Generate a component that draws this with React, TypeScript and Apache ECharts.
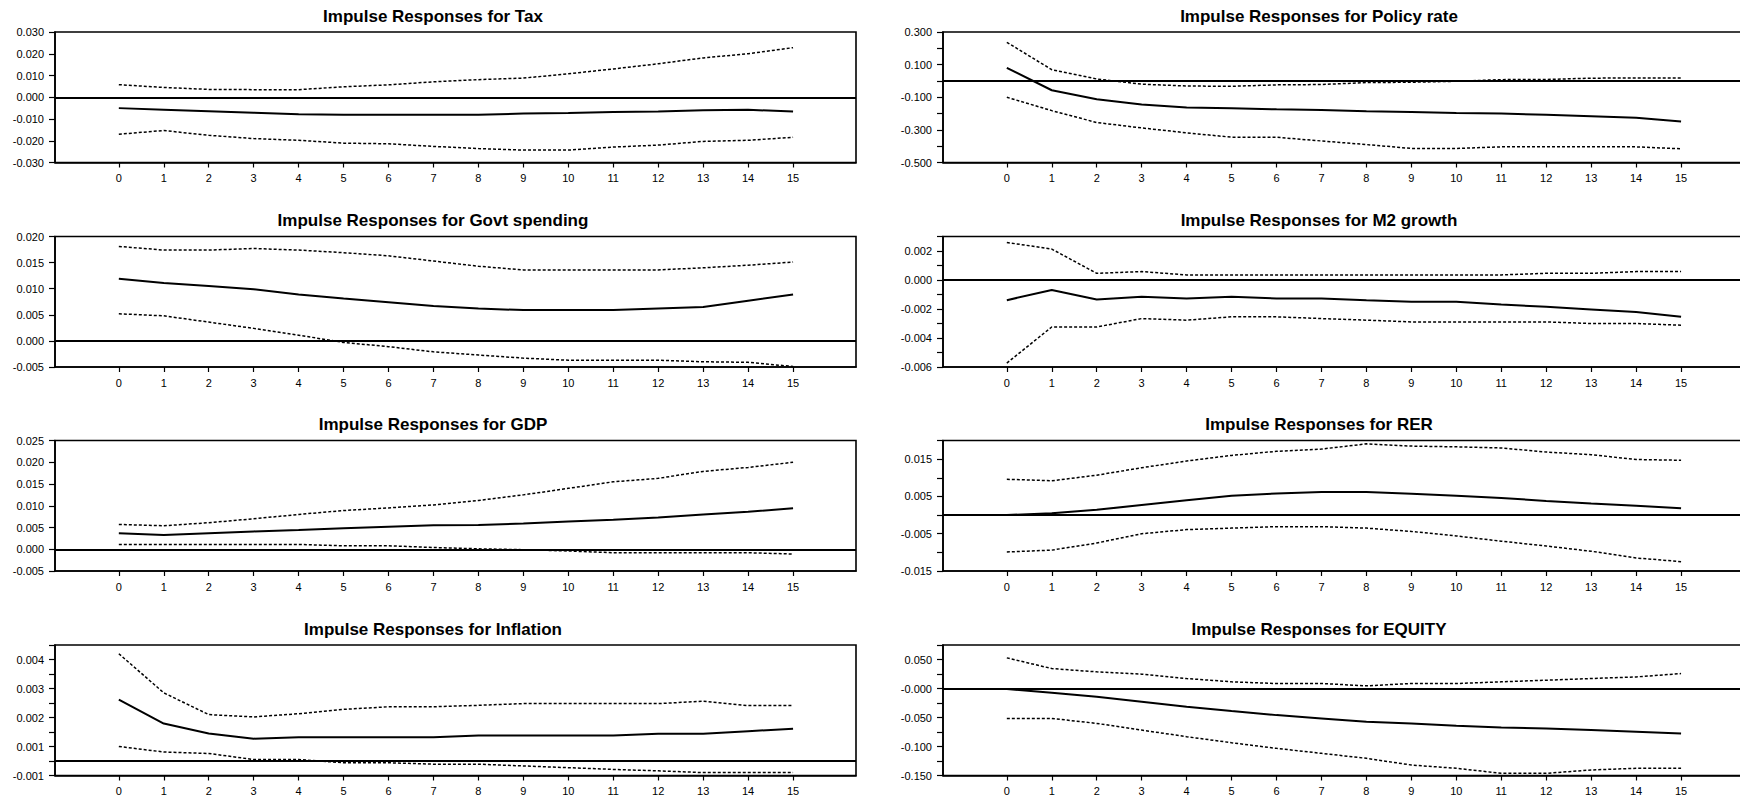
import React, { useEffect, useRef } from "react";
import * as echarts from "echarts";

// ---------- data ----------
const periods = [0, 1, 2, 3, 4, 5, 6, 7, 8, 9, 10, 11, 12, 13, 14, 15];

const taxMid = [-0.005, -0.0057, -0.0064, -0.0071, -0.0078, -0.008, -0.008, -0.008, -0.008, -0.0075, -0.0072, -0.0068, -0.0065, -0.006, -0.0058, -0.0065];
const taxHi = [0.0058, 0.0045, 0.0036, 0.0035, 0.0035, 0.0048, 0.0057, 0.0071, 0.0081, 0.0088, 0.0108, 0.013, 0.0154, 0.0181, 0.02, 0.0228];
const taxLo = [-0.017, -0.0153, -0.0175, -0.019, -0.0198, -0.0211, -0.0214, -0.0226, -0.0236, -0.0243, -0.0243, -0.0229, -0.022, -0.0203, -0.0198, -0.0184];
const taxYLabels = ["-0.030", "-0.020", "-0.010", "0.000", "0.010", "0.020", "0.030"];

const govMid = [0.0119, 0.0111, 0.0105, 0.0099, 0.0089, 0.0081, 0.0074, 0.0067, 0.0062, 0.0059, 0.0059, 0.0059, 0.0062, 0.0065, 0.0077, 0.0089];
const govHi = [0.0181, 0.0174, 0.0174, 0.0177, 0.0174, 0.0169, 0.0163, 0.0153, 0.0143, 0.0136, 0.0136, 0.0136, 0.0136, 0.014, 0.0145, 0.0151];
const govLo = [0.0052, 0.0048, 0.0036, 0.0024, 0.0011, -0.0003, -0.0011, -0.0021, -0.0027, -0.0033, -0.0037, -0.0037, -0.0037, -0.004, -0.0041, -0.0049];
const govYLabels = ["-0.005", "0.000", "0.005", "0.010", "0.015", "0.020"];

const gdpMid = [0.0037, 0.0033, 0.0037, 0.0041, 0.0044, 0.0048, 0.0052, 0.0055, 0.0056, 0.0059, 0.0064, 0.0068, 0.0073, 0.008, 0.0086, 0.0094];
const gdpHi = [0.0057, 0.0054, 0.0061, 0.007, 0.008, 0.0089, 0.0095, 0.0102, 0.0112, 0.0125, 0.014, 0.0155, 0.0163, 0.0179, 0.0188, 0.02];
const gdpLo = [0.0011, 0.0011, 0.0011, 0.0011, 0.0011, 0.0008, 0.0008, 0.0004, 0.0001, -0.0001, -0.0004, -0.0008, -0.0008, -0.0008, -0.0008, -0.0011];
const gdpYLabels = ["-0.005", "0.000", "0.005", "0.010", "0.015", "0.020", "0.025"];

const infMid = [0.00212, 0.00129, 0.00095, 0.00077, 0.00082, 0.00082, 0.00082, 0.00082, 0.00088, 0.00088, 0.00088, 0.00088, 0.00094, 0.00094, 0.00103, 0.00111];
const infHi = [0.0037, 0.00235, 0.0016, 0.00152, 0.00163, 0.00178, 0.00187, 0.00187, 0.00192, 0.00198, 0.00198, 0.00198, 0.00198, 0.00206, 0.00191, 0.00191];
const infLo = [0.0005, 0.00031, 0.00026, 0.00005, 0.00005, -0.00006, -0.00006, -0.00011, -0.00011, -0.00017, -0.00023, -0.00029, -0.00034, -0.0004, -0.0004, -0.0004];
const infYLabels = ["-0.001", "", "0.001", "", "0.002", "", "0.003", "", "0.004", ""];

const polMid = [0.08, -0.057, -0.112, -0.145, -0.163, -0.168, -0.174, -0.178, -0.186, -0.19, -0.196, -0.2, -0.207, -0.216, -0.226, -0.248];
const polHi = [0.237, 0.069, 0.012, -0.02, -0.031, -0.033, -0.024, -0.022, -0.01, -0.008, -0.002, 0.008, 0.009, 0.017, 0.018, 0.018];
const polLo = [-0.1, -0.182, -0.255, -0.288, -0.318, -0.345, -0.345, -0.368, -0.39, -0.414, -0.414, -0.404, -0.404, -0.404, -0.404, -0.416];
const polYLabels = ["-0.500", "", "-0.300", "", "-0.100", "", "0.100", "", "0.300"];

const m2Mid = [-0.00139, -0.00069, -0.00134, -0.00116, -0.00127, -0.00116, -0.00127, -0.00127, -0.00139, -0.0015, -0.0015, -0.00169, -0.00185, -0.00203, -0.0022, -0.00254];
const m2Hi = [0.00259, 0.00213, 0.00046, 0.00058, 0.00035, 0.00035, 0.00035, 0.00035, 0.00035, 0.00035, 0.00035, 0.00035, 0.00046, 0.00046, 0.00058, 0.00058];
const m2Lo = [-0.00573, -0.00324, -0.00324, -0.00266, -0.00277, -0.00254, -0.00254, -0.00266, -0.00277, -0.00289, -0.00289, -0.00289, -0.00289, -0.003, -0.003, -0.00312];
const m2YLabels = ["-0.006", "", "-0.004", "", "-0.002", "", "0.000", "", "0.002", ""];

const rerMid = [0.0, 0.0005, 0.0014, 0.0027, 0.004, 0.0052, 0.0058, 0.0062, 0.0062, 0.0057, 0.0052, 0.0046, 0.0038, 0.0031, 0.0025, 0.0018];
const rerHi = [0.0096, 0.0092, 0.0107, 0.0127, 0.0145, 0.016, 0.0171, 0.0177, 0.0191, 0.0185, 0.0183, 0.018, 0.0169, 0.0162, 0.0149, 0.0147];
const rerLo = [-0.0099, -0.0094, -0.0075, -0.005, -0.0039, -0.0035, -0.0031, -0.0031, -0.0035, -0.0044, -0.0056, -0.007, -0.0083, -0.0097, -0.0115, -0.0125];
const rerYLabels = ["-0.015", "", "-0.005", "", "0.005", "", "0.015", ""];

const eqMid = [-0.001, -0.0075, -0.0143, -0.0229, -0.0315, -0.039, -0.0459, -0.0516, -0.0573, -0.0602, -0.0642, -0.0671, -0.0688, -0.0717, -0.0745, -0.0774];
const eqHi = [0.0528, 0.0344, 0.0287, 0.0247, 0.0172, 0.0115, 0.0086, 0.0086, 0.0046, 0.0086, 0.0086, 0.0115, 0.0143, 0.0172, 0.02, 0.0258];
const eqLo = [-0.0516, -0.0516, -0.0602, -0.0717, -0.0831, -0.0935, -0.1032, -0.1118, -0.1204, -0.1319, -0.1376, -0.1462, -0.1462, -0.1405, -0.1376, -0.1376];
const eqYLabels = ["-0.150", "", "-0.100", "", "-0.050", "", "-0.000", "", "0.050", ""];

type Panel = {
  title: string;
  mid: number[];
  hi: number[];
  lo: number[];
  yMin: number;
  yMax: number;
  yStep: number;
  yLabels: string[];
  col: number;
  row: number;
};

const panels: Panel[] = [
  { title: "Impulse Responses for Tax", mid: taxMid, hi: taxHi, lo: taxLo, yMin: -0.03, yMax: 0.03, yStep: 0.01, yLabels: taxYLabels, col: 0, row: 0 },
  { title: "Impulse Responses for Govt spending", mid: govMid, hi: govHi, lo: govLo, yMin: -0.005, yMax: 0.02, yStep: 0.005, yLabels: govYLabels, col: 0, row: 1 },
  { title: "Impulse Responses for GDP", mid: gdpMid, hi: gdpHi, lo: gdpLo, yMin: -0.005, yMax: 0.025, yStep: 0.005, yLabels: gdpYLabels, col: 0, row: 2 },
  { title: "Impulse Responses for Inflation", mid: infMid, hi: infHi, lo: infLo, yMin: -0.0005, yMax: 0.004, yStep: 0.0005, yLabels: infYLabels, col: 0, row: 3 },
  { title: "Impulse Responses for Policy rate", mid: polMid, hi: polHi, lo: polLo, yMin: -0.5, yMax: 0.3, yStep: 0.1, yLabels: polYLabels, col: 1, row: 0 },
  { title: "Impulse Responses for M2 growth", mid: m2Mid, hi: m2Hi, lo: m2Lo, yMin: -0.006, yMax: 0.003, yStep: 0.001, yLabels: m2YLabels, col: 1, row: 1 },
  { title: "Impulse Responses for RER", mid: rerMid, hi: rerHi, lo: rerLo, yMin: -0.015, yMax: 0.02, yStep: 0.005, yLabels: rerYLabels, col: 1, row: 2 },
  { title: "Impulse Responses for EQUITY", mid: eqMid, hi: eqHi, lo: eqLo, yMin: -0.15, yMax: 0.075, yStep: 0.025, yLabels: eqYLabels, col: 1, row: 3 },
];

// ---------- layout ----------
const GRID_LEFT = [55, 943];
const GRID_TOP = [32, 236.5, 440.5, 645];
const GRID_W = 801;
const GRID_H = 130.5;
const TITLE_X = [433, 1319];
const X_MIN = -1.42;
const X_MAX = 16.4;
const FONT = "'Liberation Sans', Arial, Helvetica, sans-serif";

function buildOption(): any {
  const grid = panels.map((p) => ({
    left: GRID_LEFT[p.col],
    top: GRID_TOP[p.row],
    width: GRID_W,
    height: GRID_H,
    show: true,
    borderColor: "#000",
    borderWidth: 1.6,
    containLabel: false,
    outerBoundsMode: "none",
  }));

  const xAxis = panels.map((p, i) => ({
    type: "value",
    gridIndex: i,
    min: X_MIN,
    max: X_MAX,
    axisLine: { show: true, onZero: false, lineStyle: { color: "#000", width: 1.6 } },
    axisTick: { show: true, customValues: periods, length: 5, lineStyle: { color: "#000", width: 1.2 } },
    axisLabel: { show: true, customValues: periods, color: "#000", fontSize: 11, fontFamily: FONT, margin: 10 },
    splitLine: { show: false },
  }));

  const yAxis = panels.map((p, i) => ({
    type: "value",
    gridIndex: i,
    min: p.yMin,
    max: p.yMax,
    interval: p.yStep,
    axisLine: { show: true, onZero: false, lineStyle: { color: "#000", width: 1.6 } },
    axisTick: { show: true, length: 6, lineStyle: { color: "#000", width: 1.2 } },
    axisLabel: {
      show: true,
      color: "#000",
      fontSize: 11,
      fontFamily: FONT,
      margin: 11,
      showMinLabel: true,
      showMaxLabel: true,
      formatter: (v: number) => {
        const k = Math.round((v - p.yMin) / p.yStep);
        return p.yLabels[k] ?? "";
      },
    },
    splitLine: { show: false },
  }));

  const series: any[] = [];
  panels.forEach((p, i) => {
    const toPts = (arr: number[]) => periods.map((x, k) => [x, arr[k]]);
    series.push({
      type: "line",
      xAxisIndex: i,
      yAxisIndex: i,
      data: toPts(p.mid),
      symbol: "none",
      showSymbol: false,
      silent: true,
      lineStyle: { color: "#000", width: 2, type: "solid" },
      z: 3,
      markLine: {
        silent: true,
        symbol: ["none", "none"],
        label: { show: false },
        lineStyle: { color: "#000", width: 1.8, type: "solid" },
        data: [{ yAxis: 0 }],
      },
    });
    [p.hi, p.lo].forEach((arr) => {
      series.push({
        type: "line",
        xAxisIndex: i,
        yAxisIndex: i,
        data: toPts(arr),
        symbol: "none",
        showSymbol: false,
        silent: true,
        lineStyle: { color: "#000", width: 1.5, type: [3, 2] },
        z: 2,
      });
    });
  });

  const graphic = panels.map((p) => ({
    type: "text",
    x: TITLE_X[p.col],
    y: GRID_TOP[p.row] - 16,
    silent: true,
    style: {
      text: p.title,
      fill: "#000",
      fontSize: 17,
      fontWeight: "bold",
      fontFamily: FONT,
      align: "center",
      verticalAlign: "middle",
      textAlign: "center",
      textVerticalAlign: "middle",
    },
  }));

  return {
    animation: false,
    backgroundColor: "#fff",
    grid,
    xAxis,
    yAxis,
    series,
    graphic,
  };
}

export default function App() {
  const ref = useRef<HTMLDivElement | null>(null);
  useEffect(() => {
    if (!ref.current) return;
    const chart = echarts.init(ref.current, undefined, { renderer: "svg" });
    chart.setOption(buildOption());
    return () => chart.dispose();
  }, []);
  return (
    <div
      ref={ref}
      style={{ position: "fixed", left: 0, top: 0, width: 1740, height: 801, background: "#fff" }}
    />
  );
}
